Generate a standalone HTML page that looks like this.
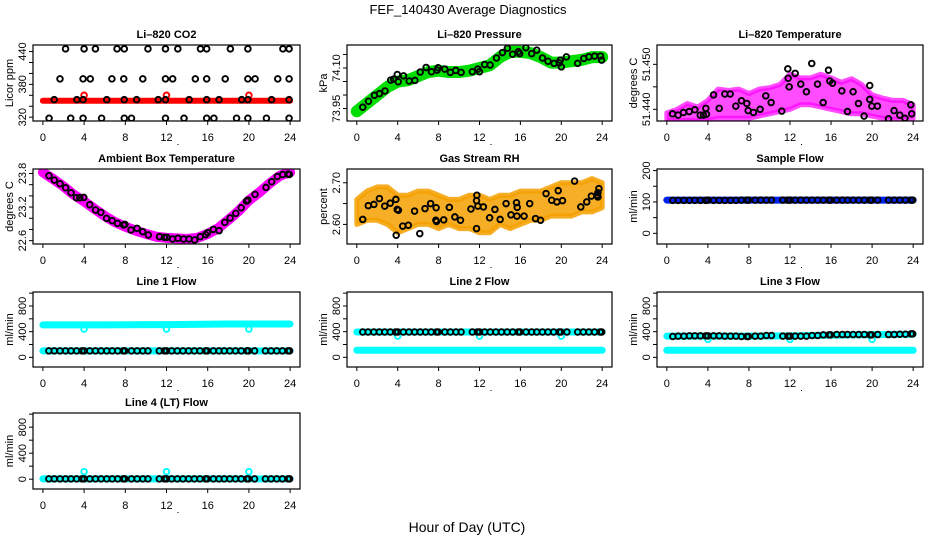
<!DOCTYPE html>
<html><head><meta charset="utf-8"><title>FEF_140430 Average Diagnostics</title>
<style>
html,body{margin:0;padding:0;background:#fff;}
svg{display:block;font-family:"Liberation Sans",Arial,sans-serif;}
</style></head>
<body>
<svg id="chart" width="936" height="540" viewBox="0 0 936 540" xmlns="http://www.w3.org/2000/svg">
<rect x="0" y="0" width="936" height="540" fill="#fff"/>
<text x="468" y="14" font-size="13" text-anchor="middle">FEF_140430  Average Diagnostics</text>
<text x="467" y="532" font-size="14" text-anchor="middle">Hour of Day (UTC)</text>
</svg>
<script>
// ---------- data ----------
const xTicks = [0,4,8,12,16,20,24];
const sampleHours = [0.58,1.1,1.66,2.2,2.73,3.27,3.8,4.0,4.55,5.1,5.65,6.2,6.73,7.27,7.8,7.95,8.6,9.15,9.7,10.2,11.3,11.8,12.0,12.5,13.05,13.6,14.15,14.7,15.25,15.8,15.95,16.55,17.1,17.6,18.15,18.7,19.25,19.8,19.95,20.55,21.6,22.15,22.7,23.25,23.8,23.95];
const bandHours = [0,1,2,3,4,5,6,7,8,9,10,11,12,13,14,15,16,17,18,19,20,21,22,23,24];
const dipHours = [4,12,20];
const flatHours = [0,6,12,18,24];

// CO2
const co2Hours = [2.2,4.0,5.1,7.2,7.9,10.2,11.9,13.1,15.3,15.9,18.2,19.9,23.3,23.9, 1.66,3.9,4.6,6.7,7.85,9.7,11.9,12.6,14.8,15.9,17.7,19.9,20.6,22.8,23.9, 1.1,3.3,3.9,6.2,7.9,9.1,11.2,11.9,14.2,15.9,17.1,19.3,19.9,22.2,23.9, 0.6,2.7,3.9,5.7,7.9,8.6,11.9,13.7,15.9,16.6,18.8,19.9,21.7,23.9];
const co2Vals = [445,445,445,445,445,445,445,445,445,445,445,445,445,445, 390,390,390,390,390,390,390,390,390,390,390,390,390,390,390, 352,352,352,352,352,352,352,352,352,352,352,352,352,352,352, 318,318,318,318,318,318,318,318,318,318,318,318,318,318];
const co2Red = [350,350,350,350,350];
const co2RedDip = [360,360,360];

// Pressure
const presHours = [0.58,1.14,1.72,2.21,2.76,3.31,3.6,3.96,4.05,4.57,5.12,5.68,6.2,6.78,7.3,7.85,7.95,8.6,9.15,9.67,10.2,11.3,11.84,12.0,12.5,13.04,13.66,14.24,14.73,15.24,15.8,15.93,16.54,17.1,17.6,18.16,18.7,19.3,19.8,19.9,20.0,20.5,21.6,22.2,22.7,23.26,23.84,23.94];
const presVals = [73.955,73.977,73.999,74.005,74.015,74.055,74.059,74.076,74.049,74.071,74.052,74.054,74.085,74.102,74.086,74.092,74.101,74.096,74.084,74.091,74.084,74.086,74.096,74.086,74.113,74.111,74.137,74.157,74.173,74.151,74.160,74.153,74.175,74.153,74.166,74.137,74.125,74.117,74.119,74.129,74.104,74.141,74.117,74.135,74.141,74.144,74.144,74.129];
const presBand = [73.94,73.97,74.0,74.03,74.05,74.055,74.07,74.085,74.09,74.085,74.085,74.09,74.1,74.11,74.14,74.16,74.16,74.155,74.14,74.12,74.12,74.125,74.13,74.14,74.14];

// Li-820 temperature
const tempHours = [0.55,1.1,1.62,2.18,2.73,3.25,3.57,3.86,3.8,4.55,5.1,5.65,6.17,6.72,7.27,7.79,7.92,8.44,9.09,9.64,10.16,11.2,11.79,11.82,11.92,12.5,13.05,13.6,14.12,14.68,15.23,15.75,15.88,16.14,17.05,17.6,18.15,18.67,19.22,19.77,19.77,19.97,20.52,21.6,22.14,22.7,23.2,23.77,23.86];
const tempVals = [51.4390,51.4387,51.4393,51.4395,51.4399,51.4387,51.4387,51.4389,51.4402,51.4432,51.4402,51.4434,51.4434,51.4407,51.4419,51.4413,51.4397,51.4393,51.4400,51.4430,51.4415,51.4396,51.4490,51.4469,51.4450,51.4480,51.4456,51.4439,51.4502,51.4456,51.4415,51.4487,51.4463,51.4458,51.4441,51.4395,51.4439,51.4413,51.4385,51.4453,51.4422,51.4407,51.4407,51.4379,51.4397,51.4387,51.4380,51.4410,51.4390];
const tempLo = [51.4375,51.4375,51.4375,51.4375,51.4375,51.4380,51.4380,51.4380,51.4380,51.4385,51.4390,51.4395,51.4400,51.4410,51.4410,51.4405,51.4400,51.4395,51.4390,51.4390,51.4385,51.4380,51.4378,51.4378,51.4380];
const tempHi = [51.4392,51.4400,51.4413,51.4405,51.4420,51.4445,51.4442,51.4445,51.4435,51.4445,51.4448,51.4455,51.4478,51.4470,51.4470,51.4478,51.4470,51.4460,51.4468,51.4455,51.4432,51.4425,51.4420,51.4420,51.4410];

// Ambient box temperature
const ambHours = [0.59,1.11,1.66,2.21,2.73,3.25,3.58,3.97,4.55,5.11,5.63,6.18,6.73,7.25,7.84,7.97,8.55,9.14,9.69,10.24,11.32,11.8,12.03,12.59,13.11,13.66,14.18,14.73,15.28,15.8,15.99,16.55,17.11,17.66,18.18,18.73,19.25,19.77,19.9,20.59,21.66,22.21,22.76,23.28,23.8,23.93];
const ambVals = [23.759,23.681,23.616,23.545,23.456,23.367,23.367,23.372,23.242,23.147,23.105,22.998,22.957,22.909,22.879,22.891,22.790,22.820,22.760,22.701,22.671,22.659,22.659,22.630,22.642,22.630,22.630,22.612,22.671,22.707,22.743,22.802,22.778,22.927,23.004,23.087,23.188,23.307,23.325,23.426,23.551,23.652,23.747,23.782,23.788,23.782];
const ambBand = [23.82,23.70,23.57,23.42,23.30,23.17,23.04,22.93,22.85,22.78,22.72,22.67,22.65,22.64,22.63,22.65,22.72,22.82,22.97,23.13,23.32,23.46,23.62,23.76,23.82];

// Gas stream RH
const rhHours = [0.58,1.12,1.67,2.21,2.73,3.27,3.82,3.95,4.07,3.85,4.49,5.04,5.65,6.16,6.67,7.22,7.76,7.73,7.8,8.5,9.05,9.59,10.14,11.16,11.71,11.74,11.71,11.84,12.38,12.99,13.51,14.02,14.6,15.08,15.62,15.66,15.69,16.36,16.91,17.48,17.97,18.51,19.06,19.57,19.7,20.12,21.3,21.91,22.49,22.94,23.52,23.58,23.68,23.58];
const rhVals = [2.612,2.645,2.648,2.662,2.644,2.651,2.660,2.636,2.634,2.574,2.596,2.598,2.632,2.578,2.638,2.650,2.640,2.610,2.607,2.611,2.641,2.618,2.610,2.637,2.657,2.670,2.590,2.644,2.642,2.616,2.636,2.612,2.650,2.623,2.652,2.620,2.641,2.620,2.650,2.614,2.610,2.674,2.658,2.654,2.681,2.657,2.704,2.642,2.654,2.668,2.670,2.676,2.686,2.666];
const rhLo = [2.60,2.61,2.61,2.60,2.58,2.59,2.60,2.60,2.59,2.60,2.59,2.59,2.58,2.58,2.60,2.59,2.60,2.61,2.61,2.62,2.62,2.62,2.63,2.63,2.64];
const rhHi = [2.66,2.68,2.69,2.69,2.67,2.67,2.68,2.68,2.67,2.66,2.66,2.67,2.67,2.66,2.67,2.67,2.68,2.68,2.68,2.69,2.70,2.70,2.70,2.71,2.70];

// Flows
const sampleBlue = [106,106,106,106,106];
const sampleBlack = [105,105,105,105,105,105,105,106,105,105,105,105,105,106,106,106,106,106,106,106,106,106,106,106,106,106,106,106,106,106,106,106,106,106,106,106,106,106,106,106,106,106,106,106,106,106];
const line1Hi = [505,505,510,520,520];
const line1Lo = [100,100,100,100,100];
const line1Dip = [440,440,440];
const line1Black = [100,100,100,100,100,100,100,100,100,100,100,100,100,100,100,100,100,100,100,100,100,100,100,100,100,100,100,100,100,100,100,100,100,100,100,100,100,100,100,100,100,100,100,100,100,100];
const line2Hi = [395,395,395,395,395];
const line2Lo = [110,110,110,110,110];
const line2Dip = [330,330,330];
const line2Black = [395,395,395,395,395,395,395,395,395,395,395,395,395,395,395,395,395,395,395,395,395,395,395,395,395,395,395,395,395,395,395,395,395,395,395,395,395,395,395,395,395,395,395,395,395,395];
const line3Hi = [330,330,335,350,360];
const line3Lo = [110,110,110,110,110];
const line3Dip = [280,280,280];
const line3Black = [325,330,330,335,335,335,335,335,335,335,330,330,330,325,325,325,330,330,340,340,330,330,330,330,330,330,340,340,350,350,350,355,355,355,355,355,355,350,350,355,355,355,360,360,365,365];
const line4Band = [5,5,5,5,5];
const line4Dip = [115,115,115];
const line4Black = [5,5,5,5,5,5,5,5,5,5,5,5,5,5,5,5,5,5,5,5,5,5,5,5,5,5,5,5,5,5,5,5,5,5,5,5,5,5,5,5,5,5,5,5,5,5];

// ---------- drawing ----------
const NS = "http://www.w3.org/2000/svg";
const svg = document.getElementById('chart');
const COLS = [[33,300],[347,612],[657,923]];
const ROWS = [[45,121],[169,244],[292,367],[413,489]];
function el(tag, attrs, parent) {
  const e = document.createElementNS(NS, tag);
  for (const k in attrs) e.setAttribute(k, attrs[k]);
  (parent || svg).appendChild(e);
  return e;
}
function panel(col,row,key,title,ylab,ylim,yTicks,yLabels) {
  const [L,R] = COLS[col], [T,B] = ROWS[row];
  const g = el('g',{});
  
  
  const x = h => L + (h + 0.96) / 25.92 * (R - L);
  const y = v => B - (v - ylim[0]) / (ylim[1] - ylim[0]) * (B - T);
  const t = el('text',{x:(L+R)/2,y:T-7,'font-size':11,'font-weight':'bold','text-anchor':'middle'},g);
  t.textContent = title;
  
  
  const yt = el('text',{x:0,y:0,'font-size':11,'text-anchor':'middle',transform:`translate(${L-20},${(T+B)/2}) rotate(-90)`},g);
  yt.textContent = ylab;
  
  
  const xa = el('g',{},g);
  
  
  el('line',{x1:x(0),x2:x(24),y1:B,y2:B,stroke:'#000','stroke-width':1},xa);
  xTicks.forEach(h => {
    el('line',{x1:x(h),x2:x(h),y1:B,y2:B+4,stroke:'#000'},xa);
    const lb = el('text',{x:x(h),y:B+20,'font-size':11,'text-anchor':'middle'},xa);
    lb.textContent = h;
    
    
  });
  el('rect',{x:(L+R)/2+11,y:B+23,width:1,height:1,fill:'#000'},xa);
  const ya = el('g',{},g);
  
  
  yTicks.forEach(v => el('line',{x1:L-4,x2:L,y1:y(v),y2:y(v),stroke:'#000'},ya));
  yLabels.forEach(s => {
    const lb = el('text',{x:0,y:0,'font-size':11,'text-anchor':'middle',transform:`translate(${L-7},${y(parseFloat(s))}) rotate(-90)`},ya);
    lb.textContent = s;
    
    
  });
  const plot = el('g',{},g);
  
  
  const clip = el('clipPath',{id:'c'+key},g);
  el('rect',{x:L,y:T,width:R-L,height:B-T},clip);
  plot.setAttribute('clip-path','url(#c'+key+')');
  const box = el('rect',{x:L,y:T,width:R-L,height:B-T,fill:'none',stroke:'#000','stroke-width':1.2},g);
  
  
  return {x,y,plot};
}
function line(p, hs, vs, color, w, name) {
  const pl = el('polyline',{points:hs.map((h,i)=>p.x(h)+','+p.y(vs[i])).join(' '),fill:'none',stroke:color,'stroke-width':w,'stroke-linecap':'round','stroke-linejoin':'round'},p.plot);
  
  
}
function band(p, hs, lo, hi, color, op, name) {
  const pts = hs.map((h,i)=>p.x(h)+','+p.y(hi[i])).concat(hs.slice().reverse().map((h,j)=>p.x(h)+','+p.y(lo[hs.length-1-j])));
  const pg = el('polygon',{points:pts.join(' '),fill:color,'fill-opacity':op,stroke:color,'stroke-width':5,'stroke-opacity':op,'stroke-linejoin':'round'},p.plot);
  
  
}
function pts(p, hs, vs, color, name) {
  hs.forEach((h,i) => {
    const c = el('circle',{cx:p.x(h),cy:p.y(vs[i]),r:2.8,fill:'none',stroke:color,'stroke-width':1.9},p.plot);
    
    
  });
}

// CO2
let p = panel(0,0,'co2','Li\u2013820 CO2','Licor ppm',[313,452],[320,340,360,380,400,420,440],['320','380','440']);
line(p, flatHours, co2Red, '#ff0000', 6, 'co2-red-series');
pts(p, dipHours, co2RedDip, '#ff0000', 'co2-red-point');
pts(p, co2Hours, co2Vals, '#000', 'co2-point');

// Pressure
p = panel(1,0,'pressure','Li\u2013820 Pressure','kPa',[73.904,74.185],[73.95,74.0,74.05,74.10,74.15],['73.95','74.10']);
line(p, bandHours, presBand, '#00dd00', 12, 'pressure-green-series');
pts(p, presHours, presVals, '#000', 'pressure-point');

// Li-820 temp
p = panel(2,0,'li820-temp','Li\u2013820 Temperature','degrees C',[51.4374,51.4543],[51.440,51.445,51.450],['51.440','51.450']);
band(p, bandHours, tempLo, tempHi, '#ff00ff', 0.7, 'temp-magenta-series');
pts(p, tempHours, tempVals, '#000', 'temp-point');

// Ambient
p = panel(0,1,'ambient','Ambient Box Temperature','degrees C',[22.54,23.88],[22.6,22.8,23.0,23.2,23.4,23.6,23.8],['22.6','23.2','23.8']);
line(p, bandHours, ambBand, '#ff00ff', 10, 'ambient-magenta-series');
pts(p, ambHours, ambVals, '#000', 'ambient-point');

// RH
p = panel(1,1,'rh','Gas Stream RH','percent',[2.553,2.733],[2.60,2.65,2.70],['2.60','2.70']);
band(p, bandHours, rhLo, rhHi, '#f5a000', 0.85, 'rh-orange-series');
pts(p, rhHours, rhVals, '#000', 'rh-point');

// Sample flow
p = panel(2,1,'sample-flow','Sample Flow','ml/min',[-34,205],[0,50,100,150,200],['0','100','200']);
line(p, flatHours, sampleBlue, '#0022ee', 7, 'sample-flow-blue-series');
pts(p, sampleHours, sampleBlack, '#000', 'sample-flow-point');

const flowTicks = [0,200,400,600,800,1000], flowLabels = ['0','400','800'], flowLim = [-151,1018];
// Line 1
p = panel(0,2,'line1','Line 1 Flow','ml/min',flowLim,flowTicks,flowLabels);
line(p, flatHours, line1Hi, '#00ffff', 7, 'line1-upper-series');
line(p, flatHours, line1Lo, '#00ffff', 7, 'line1-lower-series');
pts(p, dipHours, line1Dip, '#00ffff', 'line1-dip-point');
pts(p, sampleHours, line1Black, '#000', 'line1-point');
// Line 2
p = panel(1,2,'line2','Line 2 Flow','ml/min',flowLim,flowTicks,flowLabels);
line(p, flatHours, line2Hi, '#00ffff', 7, 'line2-upper-series');
line(p, flatHours, line2Lo, '#00ffff', 7, 'line2-lower-series');
pts(p, dipHours, line2Dip, '#00ffff', 'line2-dip-point');
pts(p, sampleHours, line2Black, '#000', 'line2-point');
// Line 3
p = panel(2,2,'line3','Line 3 Flow','ml/min',flowLim,flowTicks,flowLabels);
line(p, flatHours, line3Hi, '#00ffff', 7, 'line3-upper-series');
line(p, flatHours, line3Lo, '#00ffff', 7, 'line3-lower-series');
pts(p, dipHours, line3Dip, '#00ffff', 'line3-dip-point');
pts(p, sampleHours, line3Black, '#000', 'line3-point');
// Line 4
p = panel(0,3,'line4','Line 4 (LT) Flow','ml/min',flowLim,flowTicks,flowLabels);
line(p, flatHours, line4Band, '#00ffff', 7, 'line4-series');
pts(p, dipHours, line4Dip, '#00ffff', 'line4-dip-point');
pts(p, sampleHours, line4Black, '#000', 'line4-point');
</script>
</body></html>
